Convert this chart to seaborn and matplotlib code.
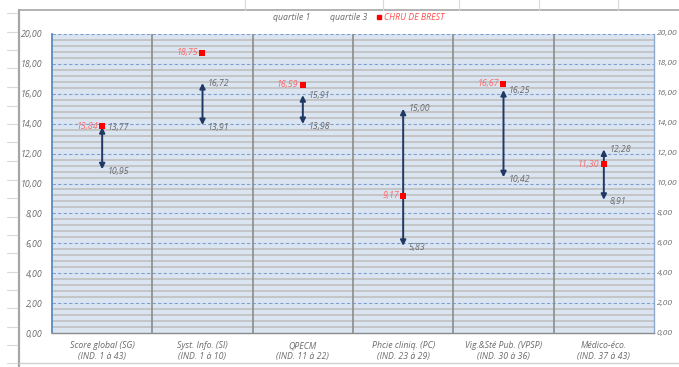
import matplotlib
matplotlib.use("Agg")
import matplotlib.pyplot as plt
from matplotlib.lines import Line2D
import numpy as np
import pandas as pd
import seaborn as sns

# --- data -------------------------------------------------------------
categories = [
    "Score global (SG)\n(IND. 1 à 43)",
    "Syst. Info. (SI)\n(IND. 1 à 10)",
    "QPECM\n(IND. 11 à 22)",
    "Phcie cliniq. (PC)\n(IND. 23 à 29)",
    "Vig.&Sté Pub. (VPSP)\n(IND. 30 à 36)",
    "Médico-éco.\n(IND. 37 à 43)",
]
quartile1 = [10.95, 13.91, 13.98, 5.83, 10.42, 8.91]
quartile3 = [13.77, 16.72, 15.91, 15.00, 16.25, 12.28]
chru_brest = [13.84, 18.75, 16.59, 9.17, 16.67, 11.30]
y_ticks = [0, 2, 4, 6, 8, 10, 12, 14, 16, 18, 20]


def fr(v):
    return f"{v:.2f}".replace(".", ",")


df = pd.DataFrame({"pos": np.arange(len(categories)),
                   "q1": quartile1, "q3": quartile3, "chru": chru_brest})

sns.set_style("white")
plt.rcParams["font.family"] = ["Open Sans", "DejaVu Sans"]

W, H = 679, 367
fig = plt.figure(figsize=(W / 100, H / 100), dpi=100)
fig.patch.set_facecolor("white")

# spreadsheet-style frame around the chart object
frame_col = "#a6a6a6"
fig.add_artist(Line2D([19 / W, 1], [1 - 10 / H, 1 - 10 / H], color=frame_col, lw=1.2))
fig.add_artist(Line2D([19 / W, 19 / W], [0, 1 - 10 / H], color=frame_col, lw=1.6))
fig.add_artist(Line2D([19 / W, 1], [1 - 363 / H, 1 - 363 / H], color="#d0d0d0", lw=1.0))
for yy in [13, 32, 50, 68, 87, 106, 124, 142, 161, 180, 198, 217, 235, 253,
           272, 290, 308, 327, 345, 363]:
    fig.add_artist(Line2D([7 / W, 17 / W], [1 - yy / H, 1 - yy / H], color="#d9d9d9", lw=0.8))
for xx in [245, 383, 459, 539, 618]:
    fig.add_artist(Line2D([xx / W, xx / W], [1 - 10 / H, 1], color="#d9d9d9", lw=0.8))

ax = fig.add_axes([52 / W, 1 - 333 / H, (654 - 52) / W, (333 - 34) / H])
ax.set_facecolor("#dbe5f1")
ax.set_xlim(-0.5, len(categories) - 0.5)
ax.set_ylim(0, 20)

# minor solid grey lines, major dashed blue lines
for v in np.arange(0.4, 20, 0.4):
    if abs(v / 2 - round(v / 2)) > 1e-6:
        ax.axhline(v, color="#bfbfbf", lw=1.2, zorder=1)
for v in y_ticks[1:]:
    ax.axhline(v, color="#7f9fd0", lw=0.8, ls=(0, (3, 2)), zorder=1)
# category separators
for b in np.arange(0.5, len(categories) - 1, 1.0):
    ax.axvline(b, color="#8c8c8c", lw=1.2, zorder=1)

for s in ["left", "right", "bottom"]:
    ax.spines[s].set_visible(True)
ax.spines["top"].set_visible(False)
ax.spines["left"].set_color("#4f81bd")
ax.spines["left"].set_linewidth(1.2)
ax.spines["right"].set_color("#8ea9cf")
ax.spines["right"].set_linewidth(1.0)
ax.spines["bottom"].set_color("#8c8c8c")
ax.spines["bottom"].set_linewidth(1.0)

lab_col = "#6b6b6b"
fs = 6.3

# quartile ranges as double-headed arrows
arrow_col = "#1f3864"
for _, r in df.iterrows():
    ax.annotate("", xy=(r.pos, r.q3), xytext=(r.pos, r.q1),
                arrowprops=dict(arrowstyle="<|-|>", color=arrow_col, lw=1.4,
                                mutation_scale=8, shrinkA=0, shrinkB=0),
                zorder=4)
    ax.annotate(fr(r.q3), (r.pos, r.q3), xytext=(4, 0), textcoords="offset points",
                ha="left", va="center", fontsize=fs, style="italic", color=lab_col, zorder=6)
    ax.annotate(fr(r.q1), (r.pos, r.q1), xytext=(4, -1.5), textcoords="offset points",
                ha="left", va="center", fontsize=fs, style="italic", color=lab_col, zorder=6)

# CHRU values
sns.scatterplot(data=df, x="pos", y="chru", marker="s", s=16, color="#ff0000",
                edgecolor="#ff0000", linewidth=0, ax=ax, zorder=5, legend=False)
for _, r in df.iterrows():
    ax.annotate(fr(r.chru), (r.pos, r.chru), xytext=(-3, 0), textcoords="offset points",
                ha="right", va="center", fontsize=fs, style="italic", color="#ff6666", zorder=6)

# axes labels
ax.set_xticks(df["pos"])
ax.set_xticklabels(categories, fontsize=fs, style="italic", color=lab_col, linespacing=1.25)
ax.tick_params(axis="x", length=0, pad=6)
ax.set_yticks(y_ticks)
ax.set_yticklabels([fr(v) for v in y_ticks], fontsize=fs, style="italic", color=lab_col)
ax.tick_params(axis="y", length=0, pad=7, labelright=False, right=False)
# secondary scale on the right
ytr = ax.get_yaxis_transform()
for v in y_ticks:
    ax.text(1 + 2.5 / 602, v, fr(v), transform=ytr, ha="left", va="center",
            fontsize=6.0, style="italic", color=lab_col, clip_on=False)
ax.set_xlabel("")
ax.set_ylabel("")

# legend
ly = 1 - 17 / H
fig.text(273 / W, ly, "quartile 1", fontsize=fs, style="italic", color=lab_col, va="center")
fig.text(330 / W, ly, "quartile 3", fontsize=fs, style="italic", color=lab_col, va="center")
fig.add_artist(Line2D([378.5 / W], [ly], marker="s", markersize=3.5, color="#ff0000", ls="none"))
fig.text(384 / W, ly, "CHRU DE BREST", fontsize=fs, style="italic", color="#ff4d4d", va="center")

fig.savefig("out.png", dpi=100, facecolor="white")
